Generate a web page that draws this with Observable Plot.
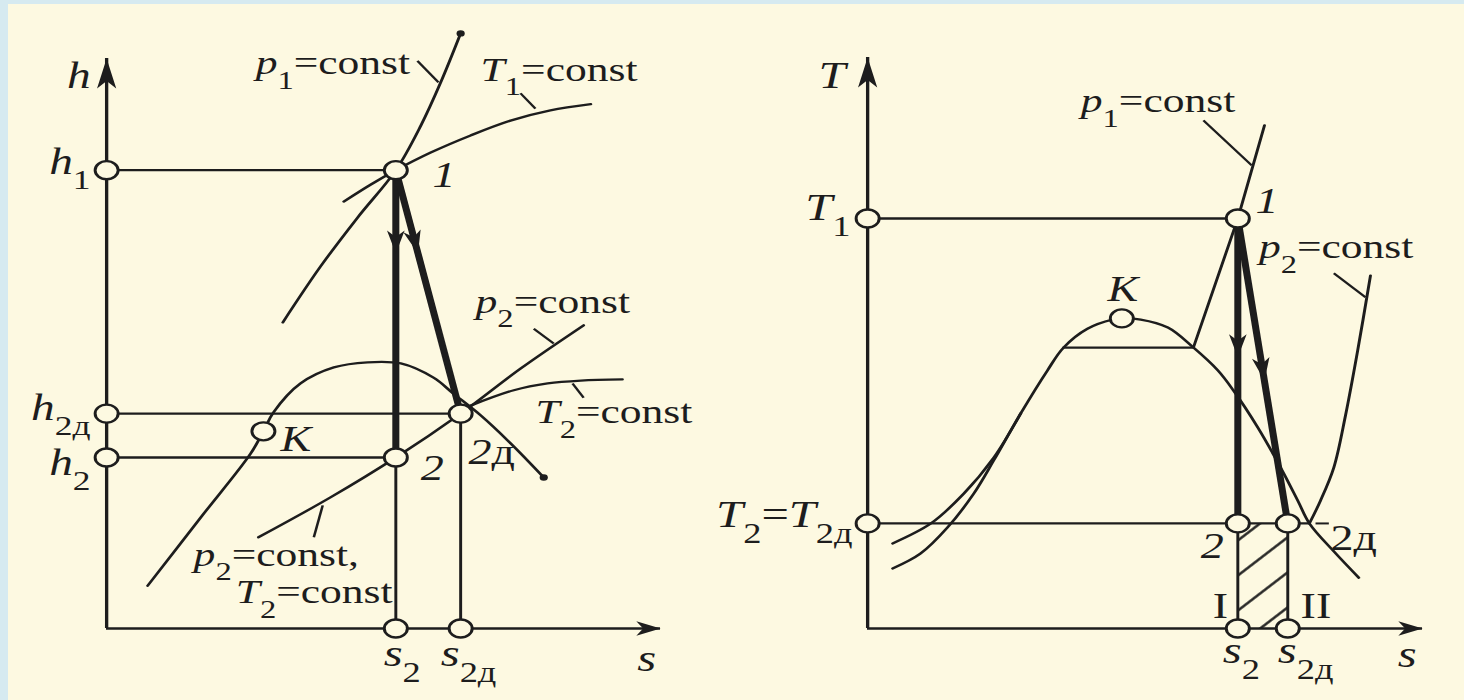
<!DOCTYPE html>
<html>
<head>
<meta charset="utf-8">
<script src="https://cdn.jsdelivr.net/npm/d3@7"></script>
<script src="https://cdn.jsdelivr.net/npm/@observablehq/plot@0.6"></script>
<style>
  html, body { margin: 0; padding: 0; }
  body { width: 1464px; height: 700px; background: #d6eaf0; position: relative; overflow: hidden; }
  #sheet { position: absolute; left: 8px; top: 4px; right: 0; bottom: 0; background: #fdf9e1; }
  .panel { position: absolute; top: 0; width: 732px; height: 700px; }
</style>
</head>
<body>
<div id="sheet"></div>
<div id="hs" class="panel" style="left:0"></div>
<div id="ts" class="panel" style="left:732px"></div>
<script>
// ---------- h–s diagram (entropy s, enthalpy h) ----------
const hsStates = [
  {name: "1",  s: 5.22, h: 8.04},
  {name: "2",  s: 5.22, h: 3.00},
  {name: "2д", s: 6.39, h: 3.77},
  {name: "K",  s: 2.83, h: 3.46}
];
const hsIsobarP1   = [[3.18,5.37],[3.86,6.35],[4.53,7.21],[5.22,8.04],[5.67,8.82],[6.03,9.58],[6.39,10.44]];
const hsIsothermT1 = [[4.28,7.49],[4.77,7.79],[5.22,8.04],[5.85,8.35],[6.57,8.65],[7.29,8.91],[8.01,9.09],[8.74,9.20]];
const hsSaturation = [[0.74,0.75],[1.70,1.95],[2.60,3.07],[2.83,3.46],[3.01,3.79],[3.50,4.30],[4.10,4.58],[4.71,4.67],[5.31,4.65],[5.90,4.40],[6.26,4.12],[6.75,3.74],[7.29,3.25],[7.89,2.65]];
const hsIsobarP2   = [[2.74,1.60],[4.04,2.30],[5.22,3.00],[6.39,3.77],[7.47,4.56],[8.61,5.32]];
const hsIsothermT2 = [[6.57,3.91],[7.35,4.18],[7.96,4.30],[8.56,4.35],[9.31,4.37]];
const hsCurveEnds  = [[6.39,10.44],[7.89,2.65]];
const hsLeaders    = [[5.61,9.96,5.99,9.58],[7.47,9.39,7.74,9.12],[7.71,5.26,8.07,5.00],[8.41,4.30,8.61,4.05],[3.90,2.16,3.74,1.60]];
const hsArrowTips  = [{from: "1", to: "2", s: 5.22, h: 6.58}, {from: "1", to: "2д", s: 5.62, h: 6.58}];
const hsAxisLabels = [
  {s: -0.29, h: 9.49, text: "*h*"},
  {s: -0.29, h: 7.98, text: "*h*_{1}"},
  {s: -0.29, h: 3.66, text: "*h*_{2д}"},
  {s: -0.29, h: 2.70, text: "*h*_{2}"}
];
const hsBelowLabels = [
  {s: 5.00, h: -0.65, text: "*s*_{2}"},
  {s: 6.03, h: -0.65, text: "*s*_{2д}"},
  {s: 9.58, h: -0.74, text: "*s*"}
];
const hsCurveLabels = [
  {s: 2.69, h: 9.72, text: "*p*_{1}=const"},
  {s: 6.75, h: 9.61, text: "*T*_{1}=const"},
  {s: 6.66, h: 5.54, text: "*p*_{2}=const"},
  {s: 7.74, h: 3.60, text: "*T*_{2}=const"},
  {s: 1.57, h: 1.10, text: "*p*_{2}=const,"},
  {s: 2.33, h: 0.44, text: "*T*_{2}=const"}
];
const hsPointLabels = [
  {s: 5.88, h: 7.74, text: "*1*"},
  {s: 3.14, h: 3.12, text: "*K*"},
  {s: 5.67, h: 2.60, text: "*2*"},
  {s: 6.53, h: 2.89, text: "*2*д"}
];

// ---------- T–s diagram (entropy s, temperature T) ----------
const tsStates = [
  {name: "1",  s: 6.67, T: 7.18},
  {name: "2",  s: 6.67, T: 1.84},
  {name: "2д", s: 7.57, T: 1.84},
  {name: "K",  s: 4.58, T: 5.43}
];
const tsDome = [[0.45,1.05],[0.95,1.31],[1.44,1.77],[1.91,2.36],[2.27,2.94],[2.76,3.77],[3.24,4.52],[3.53,4.92],[3.96,5.25],[4.41,5.41],[4.58,5.43],[4.92,5.41],[5.41,5.27],[5.87,4.92],[6.31,4.52],[6.59,4.17],[7.03,3.52],[7.44,2.82],[7.75,2.24],[7.96,1.84],[8.40,1.35],[8.85,0.89]];
const tsP1Liquid   = [[0.45,1.49],[1.14,1.84],[1.73,2.36],[2.27,2.99],[2.76,3.77]];
const tsP1Vapour   = [[3.53,4.92],[5.87,4.92],[6.67,7.18],[7.15,8.81]];
const tsP2Superheat = [[7.96,1.84],[8.16,2.24],[8.40,2.82],[8.61,3.73],[8.83,4.87],[9.06,6.18]];
const tsLeaders    = [[6.05,8.90,6.92,8.11],[8.40,6.22,8.97,5.80],[8.07,1.84,8.31,1.84]];
const tsArrowTips  = [{from: "1", to: "2", s: 6.67, T: 4.75}, {from: "1", to: "2д", s: 7.15, T: 4.34}];
const tsAxisLabels = [
  {s: -0.40, T: 9.47, text: "*T*"},
  {s: -0.31, T: 7.15, text: "*T*_{1}"},
  {s: -0.27, T: 1.77, text: "*T*_{2}=*T*_{2д}"}
];
const tsBelowLabels = [
  {s: 6.40, T: -0.61, text: "*s*_{2}"},
  {s: 7.39, T: -0.61, text: "*s*_{2д}"},
  {s: 9.55, T: -0.68, text: "*s*"}
];
const tsCurveLabels = [
  {s: 3.84, T: 9.04, text: "*p*_{1}=const"},
  {s: 7.05, T: 6.48, text: "*p*_{2}=const"}
];
const tsPointLabels = [
  {s: 6.99, T: 7.27, text: "*1*"},
  {s: 4.32, T: 5.74, text: "*K*"},
  {s: 6.00, T: 1.24, text: "*2*"},
  {s: 8.34, T: 1.37, text: "2д"},
  {s: 6.22, T: 0.19, text: "I"},
  {s: 7.80, T: 0.19, text: "II"}
];

// ---------- drawing ----------
const INK = "#1d1d1d";
const PAPER = "#fdf9e1";
const FONT = "'Liberation Serif', 'Times New Roman', serif";
const K = 1.28;                 // horizontal stretch of the printed figure
const PANEL_W = 732, H = 700, INNER_W = PANEL_W / K;
const DOMAIN = [0, 10];

// filled, slightly notched arrowhead with its tip at the origin, pointing up
const headSymbol = (ratio, notch) => ({
  draw(ctx, size) {
    const L = Math.sqrt(size), w = L * ratio;
    ctx.moveTo(0, 0); ctx.lineTo(w, L); ctx.lineTo(0, L * notch); ctx.lineTo(-w, L); ctx.closePath();
  }
});
const rFor = L => L / Math.sqrt(Math.PI);
const yAxisHead = headSymbol(0.25, 0.75);
const xAxisHead = headSymbol(0.38, 0.72);
const flowHead = headSymbol(0.3, 0.72);

const px = d => d[0], py = d => d[1];

function headAngle(sc, fx, fy, tx, ty) {
  const dx = sc.x.apply(tx) - sc.x.apply(fx);
  const dy = sc.y.apply(ty) - sc.y.apply(fy);
  return Math.atan2(dx, -dy) * 180 / Math.PI;
}

function textMarks(data, yKey, size, anchor) {
  return Plot.text(data, {x: "s", y: yKey, text: "text", fontSize: size, fontFamily: FONT,
    textAnchor: anchor, lineAnchor: "bottom", fill: INK});
}

// "*x*" -> italic, "_{x}" -> subscript
function richText(svg) {
  svg.querySelectorAll("text").forEach(el => {
    const raw = el.textContent;
    if (!/[*_]/.test(raw)) return;
    const fs = parseFloat(getComputedStyle(el).fontSize);
    const shift = fs * 0.42;
    el.textContent = "";
    let low = false;
    for (const m of raw.matchAll(/\*([^*]+)\*|_\{([^}]+)\}|([^*_]+)/g)) {
      const t = document.createElementNS("http://www.w3.org/2000/svg", "tspan");
      if (m[2] !== undefined) {
        t.textContent = m[2];
        t.setAttribute("font-size", fs * 0.75);
        if (!low) { t.setAttribute("dy", shift); low = true; }
      } else {
        t.textContent = m[1] !== undefined ? m[1] : m[3];
        if (m[1] !== undefined) t.setAttribute("font-style", "italic");
        if (low) { t.setAttribute("dy", -shift); low = false; }
      }
      el.appendChild(t);
    }
  });
}

function addHatch(svg, id) {
  const defs = document.createElementNS("http://www.w3.org/2000/svg", "defs");
  defs.innerHTML = `<pattern id="${id}" patternUnits="userSpaceOnUse" width="25" height="25" patternTransform="rotate(-44.5)"><line x1="-2" y1="12.5" x2="27" y2="12.5" stroke="${INK}" stroke-width="2.2"/></pattern>`;
  svg.insertBefore(defs, svg.firstChild);
}

function makePanel(host, cfg) {
  const sc = {
    x: Plot.scale({x: {domain: DOMAIN, range: [cfg.ml, INNER_W - cfg.mr]}}),
    y: Plot.scale({y: {domain: DOMAIN, range: [H - cfg.mb, cfg.mt]}})
  };
  const svg = Plot.plot({
    width: INNER_W, height: H,
    marginLeft: cfg.ml, marginRight: cfg.mr, marginTop: cfg.mt, marginBottom: cfg.mb,
    x: {domain: DOMAIN, axis: null},
    y: {domain: DOMAIN, axis: null},
    style: {background: "transparent", overflow: "visible"},
    marks: cfg.marks(sc)
  });
  svg.setAttribute("width", PANEL_W);
  svg.setAttribute("preserveAspectRatio", "none");
  Object.assign(svg.style, {width: PANEL_W + "px", height: H + "px", maxWidth: "none"});
  if (cfg.hatch) addHatch(svg, cfg.hatch);
  host.appendChild(svg);
  richText(svg);
}

function axisMarks() {
  const top = DOMAIN[1], right = DOMAIN[1];
  return [
    Plot.ruleX([0], {stroke: INK, strokeWidth: 2.6}),
    Plot.ruleY([0], {stroke: INK, strokeWidth: 2.6}),
    Plot.dot([{x: 0, y: top}], {x: "x", y: "y", symbol: yAxisHead, r: rFor(30), fill: INK, stroke: "none"}),
    Plot.dot([{x: right, y: 0}], {x: "x", y: "y", symbol: xAxisHead, r: rFor(19), rotate: 90, fill: INK, stroke: "none"})
  ];
}

const thin = {stroke: INK, strokeWidth: 2.3, fill: "none"};
const smooth = {...thin, curve: "catmull-rom"};
const circle = {r: 9, fill: PAPER, stroke: INK, strokeWidth: 2.3};

// h–s panel
makePanel(document.getElementById("hs"), {
  ml: 106 / K, mr: (PANEL_W - 660) / K, mt: 58, mb: 72,
  marks: sc => {
    const st = Object.fromEntries(hsStates.map(d => [d.name, d]));
    const guidesH = ["1", "2д", "2"].map(n => st[n]);
    const guidesV = ["2", "2д"].map(n => st[n]);
    const process = ["2", "2д"].map(n => ({x1: st["1"].s, y1: st["1"].h, x2: st[n].s, y2: st[n].h}));
    const heads = hsArrowTips.map(d => ({...d, angle: headAngle(sc, st[d.from].s, st[d.from].h, d.s, d.h)}));
    return [
      ...axisMarks(),
      Plot.link(guidesH, {x1: 0, x2: "s", y1: "h", y2: "h", ...thin}),
      Plot.link(guidesV, {x1: "s", x2: "s", y1: 0, y2: "h", ...thin}),
      Plot.line(hsIsobarP1, {x: px, y: py, ...smooth}),
      Plot.line(hsIsothermT1, {x: px, y: py, ...smooth}),
      Plot.line(hsSaturation, {x: px, y: py, ...smooth}),
      Plot.line(hsIsobarP2, {x: px, y: py, ...smooth}),
      Plot.line(hsIsothermT2, {x: px, y: py, ...smooth}),
      Plot.link(process, {x1: "x1", y1: "y1", x2: "x2", y2: "y2", stroke: INK, strokeWidth: 5.5}),
      Plot.dot(heads, {x: "s", y: "h", rotate: "angle", symbol: flowHead, r: rFor(23), fill: INK, stroke: "none"}),
      Plot.link(hsLeaders, {x1: d => d[0], y1: d => d[1], x2: d => d[2], y2: d => d[3], stroke: INK, strokeWidth: 2}),
      Plot.dot(hsStates, {x: "s", y: "h", ...circle}),
      Plot.dot(guidesH, {x: 0, y: "h", ...circle}),
      Plot.dot(guidesV, {x: "s", y: 0, ...circle}),
      Plot.dot(hsCurveEnds, {x: px, y: py, r: 3.2, fill: INK, stroke: "none"}),
      textMarks(hsAxisLabels, "h", 37, "end"),
      textMarks(hsBelowLabels, "h", 38, "start"),
      textMarks(hsCurveLabels, "h", 34, "start"),
      textMarks(hsPointLabels, "h", 36, "start")
    ];
  }
});

// T–s panel
makePanel(document.getElementById("ts"), {
  ml: (867 - PANEL_W) / K, mr: (1464 - 1422) / K, mt: 57, mb: 72,
  hatch: "ts-hatch",
  marks: sc => {
    const st = Object.fromEntries(tsStates.map(d => [d.name, d]));
    const cross = tsP2Superheat[0];
    const guidesH = [
      {s0: 0, s: st["1"].s, T: st["1"].T},
      {s0: 0, s: cross[0], T: st["2"].T}
    ];
    const axisT = ["1", "2"].map(n => st[n]);
    const guidesV = ["2", "2д"].map(n => st[n]);
    const process = ["2", "2д"].map(n => ({x1: st["1"].s, y1: st["1"].T, x2: st[n].s, y2: st[n].T}));
    const heads = tsArrowTips.map(d => ({...d, angle: headAngle(sc, st[d.from].s, st[d.from].T, d.s, d.T)}));
    return [
      Plot.rect([{x1: st["2"].s, x2: st["2д"].s, y1: 0, y2: st["2"].T}],
        {x1: "x1", x2: "x2", y1: "y1", y2: "y2", fill: "url(#ts-hatch)"}),
      ...axisMarks(),
      Plot.link(guidesH, {x1: "s0", x2: "s", y1: "T", y2: "T", ...thin}),
      Plot.link(guidesV, {x1: "s", x2: "s", y1: 0, y2: "T", ...thin}),
      Plot.line(tsDome, {x: px, y: py, ...smooth}),
      Plot.line(tsP1Liquid, {x: px, y: py, ...smooth}),
      Plot.line(tsP1Vapour, {x: px, y: py, ...thin}),
      Plot.line(tsP2Superheat, {x: px, y: py, ...smooth}),
      Plot.link(process, {x1: "x1", y1: "y1", x2: "x2", y2: "y2", stroke: INK, strokeWidth: 5.5}),
      Plot.dot(heads, {x: "s", y: "T", rotate: "angle", symbol: flowHead, r: rFor(23), fill: INK, stroke: "none"}),
      Plot.link(tsLeaders, {x1: d => d[0], y1: d => d[1], x2: d => d[2], y2: d => d[3], stroke: INK, strokeWidth: 2}),
      Plot.dot(tsStates, {x: "s", y: "T", ...circle}),
      Plot.dot(axisT, {x: 0, y: "T", ...circle}),
      Plot.dot(guidesV, {x: "s", y: 0, ...circle}),
      textMarks(tsAxisLabels, "T", 38, "end"),
      textMarks(tsBelowLabels, "T", 38, "start"),
      textMarks(tsCurveLabels, "T", 34, "start"),
      textMarks(tsPointLabels, "T", 36, "start")
    ];
  }
});
</script>
</body>
</html>
